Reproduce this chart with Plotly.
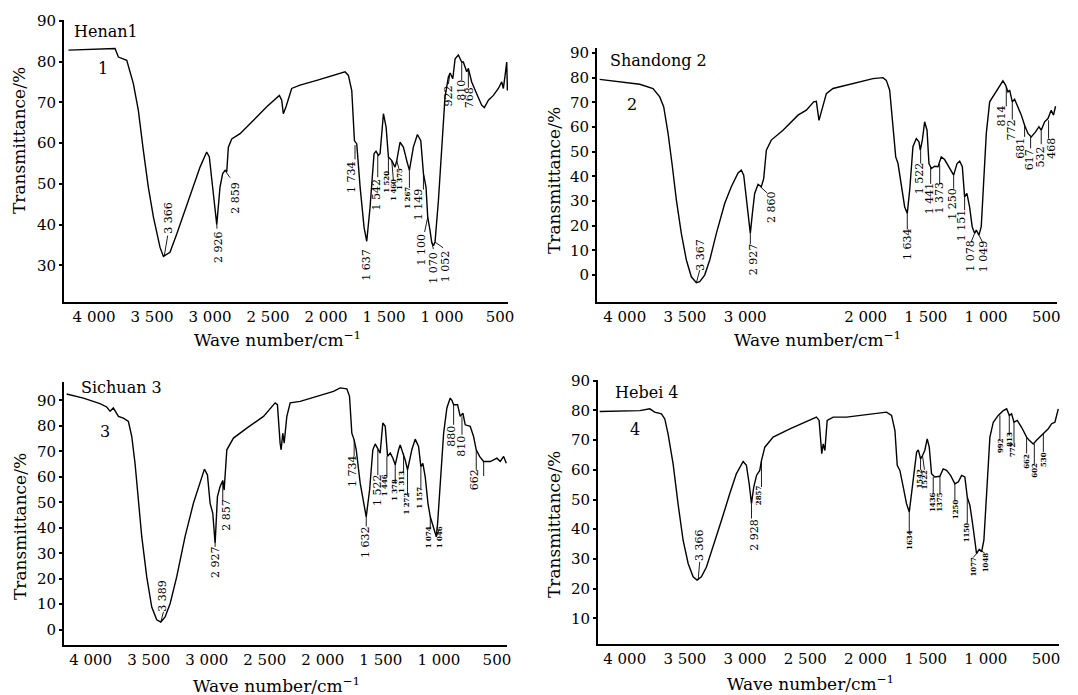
import plotly.graph_objects as go

# ---------------- data ----------------
# Panel 1: Henan 1
wn1 = [4221, 4100, 3950, 3819, 3790, 3718, 3661, 3618, 3575, 3532, 3488, 3431, 3402, 3388, 3345, 3287,
       3215, 3144, 3086, 3029, 3006, 2971, 2942, 2914, 2891, 2870, 2856, 2842, 2813, 2741, 2626, 2511,
       2402, 2382, 2368, 2345, 2296, 2224, 2080, 1936, 1836, 1807, 1778, 1755, 1735, 1706, 1672, 1649,
       1620, 1586, 1569, 1549, 1534, 1505, 1482, 1462, 1433, 1405, 1390, 1362, 1333, 1304, 1281, 1247,
       1212, 1183, 1160, 1138, 1123, 1103, 1089, 1074, 1060, 1031, 1002, 974, 945, 930, 907, 887, 859,
       830, 816, 787, 773, 744, 701, 658, 635, 600, 557, 514, 485, 471, 456, 442, 436]
t1 = [82.8, 82.9, 83.0, 83.2, 81.1, 80.3, 74.6, 68.0, 58.2, 49.2, 41.8, 34.4, 32.2, 32.4, 33.2, 37.7,
      43.4, 49.2, 54.1, 57.8, 56.6, 47.5, 40.0, 49.2, 52.5, 53.3, 52.9, 59.0, 61.0, 62.3, 65.6, 68.9,
      71.7, 70.5, 67.2, 68.9, 73.4, 74.2, 75.4, 76.6, 77.5, 76.6, 72.9, 60.6, 59.8, 49.2, 39.3, 35.9,
      44.3, 57.4, 58.0, 57.0, 57.4, 67.2, 63.9, 56.6, 55.7, 54.1, 55.7, 60.2, 59.0, 55.7, 53.3, 59.0,
      62.1, 60.6, 52.5, 49.2, 41.8, 38.5, 35.7, 34.8, 35.7, 45.9, 59.8, 71.3, 76.2, 77.2, 75.8, 80.7, 81.6,
      79.9, 79.9, 77.5, 78.3, 75.0, 72.1, 69.3, 68.7, 70.5, 71.7, 73.4, 75.0, 73.4, 76.6, 79.9, 72.9]

# Panel 2: Shandong 2
wn2 = [4208, 4014, 3875, 3765, 3709, 3676, 3640, 3604, 3571, 3530, 3488, 3447, 3405, 3377, 3336, 3294,
       3239, 3170, 3115, 3059, 3032, 3012, 2990, 2971, 2957, 2940, 2921, 2893, 2866, 2846, 2824, 2783,
       2686, 2561, 2492, 2431, 2409, 2387, 2367, 2326, 2271, 2160, 2049, 1939, 1856, 1828, 1800, 1772,
       1750, 1731, 1704, 1676, 1654, 1634, 1607, 1579, 1557, 1546, 1529, 1510, 1490, 1474, 1454, 1427,
       1399, 1372, 1344, 1316, 1289, 1269, 1241, 1219, 1197, 1178, 1159, 1137, 1115, 1095, 1081, 1059,
       1040, 1020, 998, 970, 929, 887, 860, 837, 818, 804, 782, 763, 735, 707, 680, 652, 625, 589, 561,
       542, 514, 486, 459, 440, 423]
t2 = [79.3, 78.3, 77.3, 75.6, 72.2, 68.1, 57.4, 43.9, 30.4, 16.9, 6.1, -0.7, -3.1, -2.7, 0.0, 6.1,
      16.9, 29.0, 35.8, 41.4, 42.5, 40.5, 30.4, 21.6, 16.9, 25.0, 33.1, 36.8, 35.8, 39.1, 50.6, 54.7,
      58.7, 64.8, 66.8, 70.2, 70.4, 62.7, 66.1, 73.5, 75.6, 76.9, 78.3, 79.6, 80.0, 78.9, 74.9, 60.1,
      47.9, 45.2, 35.8, 27.7, 25.0, 34.4, 52.0, 55.3, 54.0, 50.6, 54.7, 62.1, 58.7, 45.2, 43.2, 44.1,
      43.9, 47.9, 46.8, 44.5, 41.8, 40.5, 45.2, 46.2, 43.9, 31.7, 33.1, 27.7, 19.6, 16.9, 18.2, 16.2,
      19.6, 35.8, 57.4, 70.2, 73.5, 76.9, 78.7, 76.9, 74.2, 74.9, 70.2, 71.2, 68.1, 64.8, 60.7, 57.4,
      56.0, 58.0, 60.1, 58.7, 62.1, 63.4, 66.8, 64.8, 68.4]

# Panel 3: Sichuan 3
wn3 = [4207, 4063, 3920, 3862, 3833, 3805, 3761, 3718, 3675, 3646, 3618, 3589, 3560, 3517, 3474, 3431,
       3396, 3359, 3316, 3259, 3187, 3115, 3057, 3020, 2994, 2971, 2948, 2928, 2908, 2885, 2862, 2850,
       2827, 2770, 2655, 2511, 2411, 2391, 2368, 2359, 2345, 2333, 2310, 2281, 2195, 2051, 1908, 1850,
       1793, 1770, 1750, 1730, 1712, 1678, 1643, 1626, 1597, 1569, 1549, 1526, 1506, 1483, 1462, 1442,
       1419, 1396, 1376, 1347, 1333, 1310, 1290, 1270, 1233, 1204, 1175, 1155, 1138, 1118, 1094, 1074,
       1057, 1040, 1022, 1011, 988, 959, 931, 902, 888, 873, 839, 816, 793, 773, 730, 701, 678, 649, 615,
       557, 500, 471, 442, 419]
t3 = [92.5, 90.9, 88.7, 87.4, 85.7, 87.0, 83.7, 83.0, 81.7, 75.8, 65.3, 50.9, 36.5, 20.7, 8.9, 3.9,
      3.0, 5.0, 10.2, 20.7, 36.5, 49.6, 57.5, 63.0, 60.7, 49.6, 45.7, 33.8, 52.2, 56.2, 58.5, 54.8,
      70.6, 75.2, 79.1, 83.7, 89.0, 88.3, 73.2, 70.6, 77.1, 73.2, 83.7, 89.0, 89.6, 91.6, 93.5, 94.9,
      94.5, 91.6, 77.1, 74.5, 70.6, 57.5, 49.6, 44.3, 54.8, 70.6, 72.9, 70.6, 69.3, 81.1, 79.8, 68.0,
      69.3, 67.3, 64.7, 70.6, 72.5, 69.3, 66.6, 62.7, 70.6, 74.8, 71.9, 64.0, 65.3, 60.1, 49.6, 44.3,
      41.7, 38.4, 36.5, 41.7, 57.5, 77.1, 87.0, 90.9, 90.0, 88.3, 88.3, 83.7, 85.0, 80.4, 79.8, 75.8,
      70.6, 68.0, 66.0, 66.0, 67.3, 66.0, 68.0, 65.3]

# Panel 4: Hebei 4
wn4 = [4208, 4014, 3875, 3792, 3751, 3695, 3667, 3640, 3598, 3557, 3515, 3473, 3432, 3399, 3363, 3321,
       3266, 3196, 3127, 3072, 3016, 2989, 2966, 2947, 2928, 2905, 2878, 2864, 2836, 2767, 2628, 2490,
       2407, 2385, 2371, 2363, 2351, 2337, 2318, 2268, 2157, 2046, 1936, 1825, 1783, 1755, 1736, 1714,
       1686, 1659, 1636, 1609, 1575, 1561, 1542, 1526, 1507, 1487, 1470, 1451, 1424, 1382, 1354, 1326,
       1293, 1257, 1229, 1201, 1174, 1154, 1132, 1110, 1091, 1077, 1055, 1035, 1016, 994, 966, 938, 897,
       855, 827, 805, 786, 766, 739, 703, 661, 639, 606, 579, 537, 509, 481, 453, 426, 398]
t4 = [79.6, 79.7, 79.9, 80.5, 79.4, 78.8, 77.1, 72.1, 62.0, 48.6, 36.3, 28.5, 24.0, 22.9, 24.0, 27.3,
      34.0, 43.0, 52.0, 58.7, 62.8, 61.5, 55.3, 48.6, 54.2, 58.1, 59.8, 63.1, 67.6, 71.0, 73.8, 76.3,
      77.7, 76.6, 67.6, 65.4, 68.7, 66.5, 76.6, 77.7, 77.7, 78.3, 79.0, 79.4, 78.3, 73.2, 61.5, 59.8,
      54.2, 48.6, 45.8, 55.3, 66.0, 66.7, 63.7, 64.8, 66.5, 70.4, 67.6, 58.7, 57.6, 57.8, 60.3, 59.8,
      58.1, 55.3, 55.9, 58.1, 57.6, 50.8, 48.0, 41.9, 35.2, 31.8, 33.2, 32.4, 36.3, 53.1, 71.0, 76.0, 78.3,
      79.9, 80.5, 78.3, 78.8, 76.0, 76.6, 74.3, 71.0, 69.9, 68.7, 69.9, 71.5, 72.7, 73.8, 75.5, 76.0, 80.5]

x_ticks = [4000, 3500, 3000, 2500, 2000, 1500, 1000, 500]
x_ticks_2 = [4000, 3500, 3000, 2000, 1500, 1000, 500]
y_ticks_1 = [30, 40, 50, 60, 70, 80, 90]
y_ticks_2 = [0, 10, 20, 30, 40, 50, 60, 70, 80, 90]
y_ticks_3 = [0, 10, 20, 30, 40, 50, 60, 70, 80, 90]
y_ticks_4 = [10, 20, 30, 40, 50, 60, 70, 80, 90]

# peak labels: (text, label x, label y, size, bold)
peaks1 = [("3 366", 3359, 41.8, 11, False), ("2 926", 2928, 34.6, 11, False), ("2 859", 2776, 46.6, 11, False),
          ("1 734", 1778, 51.6, 11, False), ("1 637", 1649, 30.1, 11, False), ("1 542", 1563, 47.3, 11, False),
          ("1 520", 1477, 50.4, 7, True), ("1 460", 1419, 48.6, 7, True), ("1 375", 1362, 51.2, 7, True),
          ("1 267", 1298, 46.7, 7, True), ("1 149", 1204, 45.1, 11, False), ("1 100", 1175, 33.8, 11, False),
          ("1 070", 1074, 29.5, 11, False), ("1 052", 974, 29.8, 11, False), ("922", 945, 71.5, 11, False),
          ("810", 839, 73.0, 11, False), ("768", 764, 71.1, 11, False)]
lead1 = [(3394, 32.4, 3365, 37.3), (2942, 40.0, 2940, 39.0), (2862, 52.9, 2827, 51.5), (1750, 59.5, 1750, 56.0),
         (1554, 57.0, 1554, 51.6), (1462, 56.6, 1462, 52.2), (1433, 55.7, 1419, 50.8), (1390, 55.7, 1370, 53.5),
         (1281, 53.3, 1281, 49.0), (1160, 52.5, 1160, 48.6), (1123, 41.8, 1150, 38.2), (1089, 35.7, 1074, 34.0),
         (1060, 35.7, 990, 34.3), (930, 77.2, 945, 74.5), (830, 79.9, 830, 75.4), (773, 78.3, 773, 73.6)]

peaks2 = [("3 367", 3377, 8.1, 11, False), ("2 927", 2935, 6.4, 11, False), ("2 860", 2783, 27.7, 11, False),
          ("1 634", 1648, 12.6, 11, False), ("1 522", 1551, 39.1, 11, False), ("1 441", 1468, 31.0, 11, False),
          ("1 373", 1385, 31.3, 11, False), ("1 250", 1280, 29.0, 11, False), ("1 151", 1197, 20.3, 11, False),
          ("1 078", 1136, 7.7, 11, False), ("1 049", 1025, 7.7, 11, False), ("814", 873, 64.4, 11, False),
          ("772", 785, 59.0, 11, False), ("681", 716, 51.3, 11, False), ("617", 643, 46.6, 11, False),
          ("532", 547, 47.9, 11, False), ("468", 458, 51.3, 11, False)]
lead2 = [(3405, -3.1, 3377, 2.0), (2957, 16.9, 2957, 12.5), (2874, 35.8, 2818, 33.3), (1654, 25.0, 1654, 18.5),
         (1543, 50.6, 1543, 45.2), (1460, 43.5, 1460, 37.0), (1385, 45.0, 1385, 37.0), (1269, 40.5, 1269, 35.0),
         (1178, 31.7, 1178, 26.3), (1095, 16.9, 1123, 13.5), (1059, 16.2, 1031, 13.5), (832, 76.2, 832, 68.4),
         (782, 70.2, 782, 63.0), (680, 60.7, 680, 56.0), (630, 56.0, 630, 51.3), (542, 58.7, 542, 53.0),
         (481, 62.7, 481, 55.3)]

peaks3 = [("3 389", 3382, 13.5, 11, False), ("2 927", 2919, 26.6, 11, False), ("2 857", 2836, 45.0, 11, False),
          ("1 734", 1744, 62.1, 11, False), ("1 632", 1626, 34.5, 11, False), ("1 522", 1534, 54.8, 11, False),
          ("1 446", 1462, 56.8, 7, True), ("1 378", 1382, 54.6, 7, True), ("1 313", 1324, 58.1, 7, True),
          ("1 272", 1281, 49.6, 7, True), ("1 157", 1166, 51.6, 7, True), ("1 074", 1089, 36.1, 7, True),
          ("1 046", 994, 36.1, 7, True), ("880", 888, 76.1, 11, False), ("810", 801, 72.2, 11, False),
          ("662", 686, 58.8, 11, False)]
lead3 = [(3396, 3.0, 3373, 7.0), (2928, 33.8, 2928, 32.5), (2862, 58.5, 2862, 50.9), (1730, 74.5, 1730, 68.0),
         (1626, 44.3, 1626, 40.5), (1526, 70.6, 1526, 60.7), (1448, 68.0, 1448, 60.0), (1376, 64.7, 1376, 57.5),
         (1304, 69.3, 1304, 61.4), (1270, 62.7, 1270, 52.9), (1155, 64.0, 1155, 54.8), (1074, 44.3, 1074, 39.5),
         (1022, 36.5, 1000, 39.0), (873, 88.3, 873, 80.4), (801, 83.7, 801, 76.5), (678, 70.6, 678, 62.7),
         (614, 66.0, 614, 60.3)]

peaks4 = [("3 366", 3377, 34.6, 11, False), ("2 928", 2925, 38.2, 11, False), ("2857", 2886, 51.4, 7, True),
          ("1634", 1636, 36.5, 7, True), ("1542", 1548, 57.0, 7, True), ("1522", 1506, 56.7, 7, True),
          ("1436", 1437, 49.2, 7, True), ("1375", 1381, 49.2, 7, True), ("1250", 1251, 46.6, 7, True),
          ("1150", 1160, 38.8, 7, True), ("1077", 1110, 27.3, 7, True), ("1048", 1000, 28.8, 7, True),
          ("992", 877, 68.2, 7, True), ("813", 800, 70.4, 7, True), ("772", 772, 66.7, 7, True),
          ("662", 661, 62.9, 7, True), ("602", 597, 59.8, 7, True), ("530", 522, 63.4, 7, True)]
lead4 = [(3390, 22.9, 3377, 29.0), (2947, 48.6, 2947, 43.6), (2864, 63.1, 2864, 54.2), (1636, 45.8, 1636, 38.5),
         (1542, 63.7, 1542, 60.0), (1526, 64.8, 1510, 60.0), (1437, 57.6, 1437, 52.0), (1381, 57.8, 1381, 52.0),
         (1257, 55.3, 1257, 49.5), (1154, 50.8, 1154, 42.0), (1077, 31.8, 1105, 30.5), (1055, 33.2, 1010, 32.0),
         (883, 78.3, 883, 70.4), (805, 78.3, 805, 71.5), (766, 76.0, 766, 69.0), (661, 71.0, 661, 65.5),
         (597, 68.7, 597, 62.0), (522, 72.1, 522, 66.0)]

panel_names = ["Henan1", "Shandong 2", "Sichuan 3", "Hebei 4"]
curve_ids = ["1", "2", "3", "4"]

# ---------------- layout geometry ----------------
W, H = 1078, 695
FONT = "DejaVu Serif"

def px_x(p):
    return p / W

def px_y(p):
    return 1 - p / H

panels = [
    dict(wn=wn1, t=t1, xd=[64, 508], yd=[20, 302], xr=[4259, 431], yr=[21, 90.2], xt=x_ticks, yt=y_ticks_1,
         peaks=peaks1, lead=lead1, name_pos=(4193, 87.3), id_pos=(3920, 78.3),
         ytitle=(19, 141), xtitle=(277, 339)),
    dict(wn=wn2, t=t2, xd=[597, 1057], yd=[48, 302], xr=[4230, 411], yr=[-10.9, 92], xt=x_ticks_2, yt=y_ticks_2,
         peaks=peaks2, lead=lead2, name_pos=(4138, 87.0), id_pos=(3936, 69.2),
         ytitle=(554, 181), xtitle=(817, 339)),
    dict(wn=wn3, t=t3, xd=[64, 507], yd=[382, 645], xr=[4230, 413], yr=[-6.0, 97.2], xt=x_ticks, yt=y_ticks_3,
         peaks=peaks3, lead=lead3, name_pos=(4101, 95.2), id_pos=(3876, 77.8),
         ytitle=(20, 527), xtitle=(276, 685)),
    dict(wn=wn4, t=t4, xd=[598, 1059], yd=[380, 644], xr=[4222, 392], yr=[1.4, 90.2], xt=x_ticks, yt=y_ticks_4,
         peaks=peaks4, lead=lead4, name_pos=(4097, 86.1), id_pos=(3917, 73.4),
         ytitle=(554, 525), xtitle=(810, 683)),
]

fig = go.Figure()
annotations = []
shapes = []
layout = {}

for i, p in enumerate(panels):
    k = "" if i == 0 else str(i + 1)
    xa, ya = "x" + k, "y" + k
    fig.add_trace(go.Scatter(x=p["wn"], y=p["t"], mode="lines", xaxis=xa, yaxis=ya,
                             line=dict(color="black", width=1.4), showlegend=False, hoverinfo="x+y"))
    layout["xaxis" + k] = dict(
        domain=[px_x(p["xd"][0]), px_x(p["xd"][1])], range=p["xr"], anchor=ya,
        tickvals=p["xt"], ticktext=[f"{v:,}".replace(",", " ") for v in p["xt"]],
        showline=True, linecolor="black", linewidth=2, ticks="", showgrid=False, zeroline=False,
        tickfont=dict(family=FONT, size=15, color="black"), automargin=False)
    layout["yaxis" + k] = dict(
        domain=[px_y(p["yd"][1]), px_y(p["yd"][0])], range=p["yr"], anchor=xa,
        tickvals=p["yt"], showline=True, linecolor="black", linewidth=2, ticks="outside",
        ticklen=3, tickwidth=1.5, tickcolor="black", showgrid=False, zeroline=False,
        tickfont=dict(family=FONT, size=15, color="black"), automargin=False)
    # sample name and curve number
    annotations.append(dict(text=panel_names[i], x=p["name_pos"][0], y=p["name_pos"][1], xref=xa, yref=ya,
                            xanchor="left", yanchor="middle", showarrow=False,
                            font=dict(family=FONT, size=16, color="black")))
    annotations.append(dict(text=curve_ids[i], x=p["id_pos"][0], y=p["id_pos"][1], xref=xa, yref=ya,
                            xanchor="center", yanchor="middle", showarrow=False,
                            font=dict(family=FONT, size=16, color="black")))
    # peak labels
    for (txt, lx, ly, sz, bold) in p["peaks"]:
        annotations.append(dict(text=f"<b>{txt}</b>" if bold else txt, x=lx, y=ly, xref=xa, yref=ya,
                                textangle=-90, xanchor="center", yanchor="middle", showarrow=False,
                                font=dict(family=FONT, size=sz, color="black")))
    for (x0, y0, x1, y1) in p["lead"]:
        shapes.append(dict(type="line", xref=xa, yref=ya, x0=x0, y0=y0, x1=x1, y1=y1,
                           line=dict(color="black", width=0.9)))
    # axis titles
    annotations.append(dict(text="Transmittance/%", x=px_x(p["ytitle"][0]), y=px_y(p["ytitle"][1]),
                            xref="paper", yref="paper", textangle=-90, xanchor="center", yanchor="middle",
                            showarrow=False, font=dict(family=FONT, size=17, color="black")))
    annotations.append(dict(text="Wave number/cm<sup>−1</sup>", x=px_x(p["xtitle"][0]), y=px_y(p["xtitle"][1]),
                            xref="paper", yref="paper", xanchor="center", yanchor="middle",
                            showarrow=False, font=dict(family=FONT, size=17, color="black")))

fig.update_layout(width=W, height=H, margin=dict(l=0, r=0, t=0, b=0),
                  paper_bgcolor="white", plot_bgcolor="white",
                  annotations=annotations, shapes=shapes, **layout)

fig.write_html("out.html", config={"displayModeBar": False},
               post_script="document.body.style.margin='0';document.body.style.overflow='hidden';")
